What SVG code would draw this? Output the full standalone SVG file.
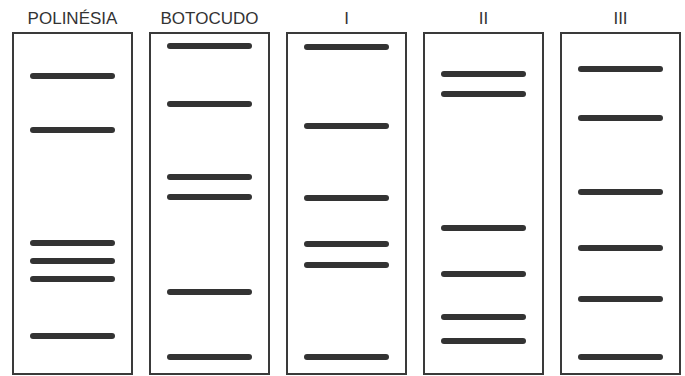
<svg xmlns="http://www.w3.org/2000/svg" width="685" height="376" viewBox="0 0 685 376">
<style>
.box{fill:#fff;stroke:#3a3a3a;stroke-width:2}
.band{stroke:#333;stroke-width:6;stroke-linecap:round}
.lbl{font-family:"Liberation Sans",Arial,sans-serif;font-size:17px;fill:#333;text-anchor:middle}
</style>
<rect width="685" height="376" fill="#fff"/>
<g id="polinesia">
<text class="lbl" x="72.5" y="24">POLINÉSIA</text>
<rect class="box" x="13" y="33" width="119" height="341"/>
<line class="band" x1="33" x2="112" y1="76" y2="76"/>
<line class="band" x1="33" x2="112" y1="130" y2="130"/>
<line class="band" x1="33" x2="112" y1="243" y2="243"/>
<line class="band" x1="33" x2="112" y1="261" y2="261"/>
<line class="band" x1="33" x2="112" y1="279" y2="279"/>
<line class="band" x1="33" x2="112" y1="336" y2="336"/>
</g>
<g id="botocudo">
<text class="lbl" x="209.5" y="24">BOTOCUDO</text>
<rect class="box" x="150" y="33" width="119" height="341"/>
<line class="band" x1="170" x2="249" y1="46" y2="46"/>
<line class="band" x1="170" x2="249" y1="104" y2="104"/>
<line class="band" x1="170" x2="249" y1="177" y2="177"/>
<line class="band" x1="170" x2="249" y1="197" y2="197"/>
<line class="band" x1="170" x2="249" y1="292" y2="292"/>
<line class="band" x1="170" x2="249" y1="357" y2="357"/>
</g>
<g id="sample-i">
<text class="lbl" x="346.5" y="24">I</text>
<rect class="box" x="287" y="33" width="119" height="341"/>
<line class="band" x1="307" x2="386" y1="47" y2="47"/>
<line class="band" x1="307" x2="386" y1="126" y2="126"/>
<line class="band" x1="307" x2="386" y1="198" y2="198"/>
<line class="band" x1="307" x2="386" y1="244" y2="244"/>
<line class="band" x1="307" x2="386" y1="265" y2="265"/>
<line class="band" x1="307" x2="386" y1="357" y2="357"/>
</g>
<g id="sample-ii">
<text class="lbl" x="483.5" y="24">II</text>
<rect class="box" x="424" y="33" width="119" height="341"/>
<line class="band" x1="444" x2="523" y1="74" y2="74"/>
<line class="band" x1="444" x2="523" y1="94" y2="94"/>
<line class="band" x1="444" x2="523" y1="228" y2="228"/>
<line class="band" x1="444" x2="523" y1="274" y2="274"/>
<line class="band" x1="444" x2="523" y1="317" y2="317"/>
<line class="band" x1="444" x2="523" y1="341" y2="341"/>
</g>
<g id="sample-iii">
<text class="lbl" x="620.5" y="24">III</text>
<rect class="box" x="561" y="33" width="119" height="341"/>
<line class="band" x1="581" x2="660" y1="69" y2="69"/>
<line class="band" x1="581" x2="660" y1="118" y2="118"/>
<line class="band" x1="581" x2="660" y1="192" y2="192"/>
<line class="band" x1="581" x2="660" y1="248" y2="248"/>
<line class="band" x1="581" x2="660" y1="299" y2="299"/>
<line class="band" x1="581" x2="660" y1="357" y2="357"/>
</g>
<g id="connectors"/>
</svg>
